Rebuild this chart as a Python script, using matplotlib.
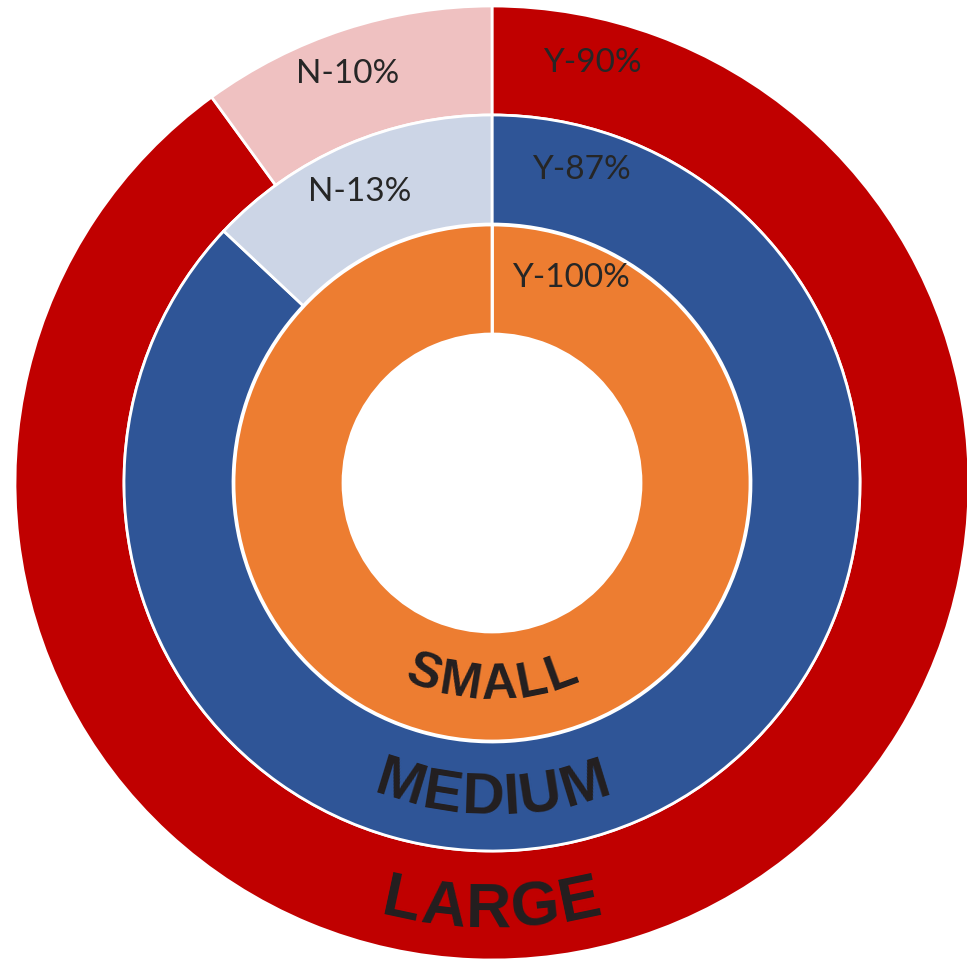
"""Nested donut: share of Y/N answers by company size."""
import numpy as np
import matplotlib
matplotlib.use("Agg")
import matplotlib.pyplot as plt

# rings from outside in
sizes = ["LARGE", "MEDIUM", "SMALL"]
yes_pct = [90, 87, 100]
no_pct = [10, 13, 0]

yes_colors = ["#C00000", "#2F5597", "#ED7D31"]
no_colors = ["#EFC1C1", "#CCD5E6", "#F9D9C3"]

W, H = 967, 961
CX, CY = 492, 478
radii = [477, 368, 258]
ring_w = 109
label_r = [428, 316, 203]
word_size = [45, 42, 36]

# where the Y/N labels sit on each ring: (radius, angle in degrees)
yes_lab_pos = [(432, 76.6), (326, 74.0), (220, 69.0)]
no_lab_pos = [(434, 109.4), (320, 114.4)]

fig = plt.figure(figsize=(W / 100, H / 100), dpi=100)
ax = fig.add_axes([0, 0, 1, 1])

for i, name in enumerate(sizes):
    vals = [yes_pct[i], no_pct[i]]
    ax.pie(vals, radius=radii[i], center=(CX, CY), startangle=90,
           counterclock=False, colors=[yes_colors[i], no_colors[i]],
           wedgeprops=dict(width=ring_w, edgecolor="white", linewidth=2))

# a full 100% ring has no seam, draw the divider at 12 o'clock
ax.plot([CX, CX], [CY + radii[2] - ring_w, CY + radii[2]], color="white", lw=2)

ax.set_xlim(0, W)
ax.set_ylim(0, H)
ax.set_aspect("equal")
ax.axis("off")

lab_kw = dict(fontsize=24, color="#262626", ha="center", va="center",
              family=["Lato", "DejaVu Sans"])
for i, (r, a) in enumerate(yes_lab_pos):
    t = np.radians(a)
    ax.text(CX + r * np.cos(t), CY + r * np.sin(t), f"Y-{yes_pct[i]}%", **lab_kw)
for i, (r, a) in enumerate(no_lab_pos):
    t = np.radians(a)
    ax.text(CX + r * np.cos(t), CY + r * np.sin(t), f"N-{no_pct[i]}%", **lab_kw)

# ring names bent along the bottom of each ring
renderer = fig.canvas.get_renderer()


def arc_text(word, r, size, track=0.0):
    kw = dict(fontsize=size, fontweight="bold", color="#231F20",
              family=["Liberation Sans", "DejaVu Sans"])
    widths = []
    for ch in word:
        tmp = ax.text(0, 0, ch, **kw)
        widths.append(tmp.get_window_extent(renderer).width)
        tmp.remove()
    total = sum(widths) + track * (len(word) - 1)
    theta = -np.pi / 2 - (total / 2) / r
    pos = 0.0
    for ch, w in zip(word, widths):
        tc = theta + (pos + w / 2) / r
        ax.text(CX + r * np.cos(tc), CY + r * np.sin(tc), ch,
                rotation=np.degrees(tc) + 90, rotation_mode="anchor",
                ha="center", va="center", **kw)
        pos += w + track


for name, r, s in zip(sizes, label_r, word_size):
    arc_text(name, r, s)

fig.savefig("out.png", dpi=100)
